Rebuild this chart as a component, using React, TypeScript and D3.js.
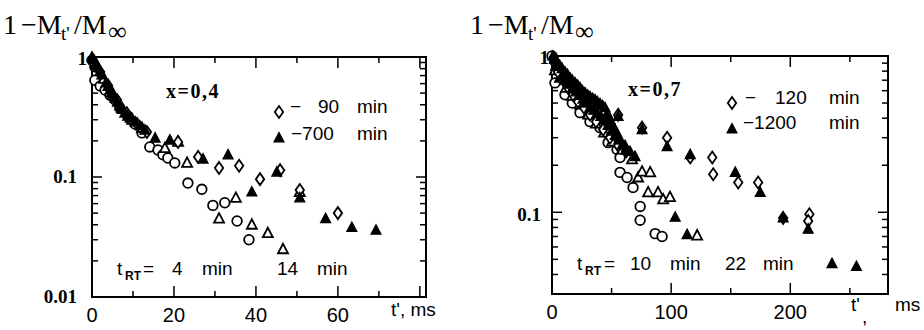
import * as d3 from 'd3';

type Pt = [number, number];

// ---- left panel, x = 0,4 (t' in ms, 1 - Mt'/Minf) ----
const L_CIRCLE: Pt[] = [
  [0, 0.94], [0.7, 0.83], [0.7, 0.64], [2, 0.574], [3.2, 0.53], [4.4, 0.48], [5.6, 0.44],
  [6.8, 0.376], [8.8, 0.32], [10.5, 0.277], [12.2, 0.233], [14.1, 0.178], [16.1, 0.168],
  [17.3, 0.153], [18.5, 0.144], [20.2, 0.131], [23.4, 0.089], [26.8, 0.079], [29.5, 0.058],
  [32.4, 0.061], [35.4, 0.043], [38.3, 0.03],
];
const L_TRI_OPEN: Pt[] = [
  [1, 0.86], [2.9, 0.656], [4.9, 0.51], [7.3, 0.376], [9.8, 0.3], [12.2, 0.256], [17.8, 0.174],
  [21, 0.196], [23.2, 0.131], [31, 0.045], [35.1, 0.067], [39, 0.04], [42.9, 0.034],
  [46.6, 0.025], [50.7, 0.075],
];
const L_DIAMOND: Pt[] = [
  [0.2, 0.91], [2, 0.75], [3.9, 0.58], [6.1, 0.438], [8.5, 0.34], [11, 0.277], [13.4, 0.237],
  [21, 0.196], [25.9, 0.147], [31, 0.119], [35.9, 0.124], [41, 0.096], [45.9, 0.114],
  [50.7, 0.078], [60, 0.05],
];
const L_TRI_FILLED: Pt[] = [
  [0, 1], [0.5, 0.944], [1, 0.88], [1.5, 0.826], [2, 0.76], [2.4, 0.708], [3.4, 0.607],
  [3.9, 0.57], [4.4, 0.531], [5, 0.49], [5.6, 0.455], [6.2, 0.42], [6.8, 0.391], [7.4, 0.365],
  [8, 0.341], [8.7, 0.322], [9.3, 0.31], [10.5, 0.288], [11.7, 0.266], [12.9, 0.246],
  [15.4, 0.211], [19, 0.203], [27.1, 0.141], [33.2, 0.153], [39, 0.075], [45.1, 0.11],
  [50.7, 0.067], [57, 0.045], [63.4, 0.038], [69.3, 0.036],
];

// ---- right panel, x = 0,7 ----
const R_CIRCLE: Pt[] = [
  [0, 1], [2.5, 0.673], [10.9, 0.565], [17, 0.5], [23.5, 0.434], [31.9, 0.38], [40.3, 0.348],
  [46.2, 0.323], [47.1, 0.279], [54.6, 0.252], [57.1, 0.224], [57.1, 0.18], [63, 0.167],
  [68, 0.144], [74, 0.109], [74, 0.089], [86.6, 0.073], [92.4, 0.07],
];
const R_TRI_OPEN: Pt[] = [
  [2.5, 0.81], [6.7, 0.724], [11.8, 0.626], [16.8, 0.556], [23.5, 0.488], [30.3, 0.421],
  [37, 0.369], [43.7, 0.323], [50.4, 0.283], [58.8, 0.252], [67.2, 0.218], [72.3, 0.167],
  [75.6, 0.182], [82.4, 0.18], [80.7, 0.134], [89, 0.134], [93.3, 0.121], [99, 0.125],
  [121.8, 0.071],
];
const R_DIAMOND: Pt[] = [
  [1.7, 0.916], [5, 0.791], [9.2, 0.703], [13.4, 0.626], [17.6, 0.565], [21.8, 0.51],
  [26.9, 0.467], [31.9, 0.421], [37, 0.38], [42.9, 0.338], [48.7, 0.3], [55.5, 0.267],
  [62.2, 0.245], [55.5, 0.42], [75.6, 0.348], [96.6, 0.3], [116, 0.224], [134.5, 0.224],
  [135.3, 0.175], [156.3, 0.155], [173, 0.155], [194, 0.092], [216, 0.097], [215, 0.088],
];
const R_TRI_FILLED: Pt[] = [
  [0.8, 1], [2, 0.95], [3.4, 0.943], [5, 0.9], [6.7, 0.864], [8.5, 0.83], [10.9, 0.791],
  [13, 0.76], [15.1, 0.724], [17, 0.7], [19.3, 0.673], [21.5, 0.65], [23.5, 0.626],
  [25.5, 0.6], [27.7, 0.581], [30, 0.56], [31.9, 0.548], [34, 0.535], [36.1, 0.525],
  [38, 0.51], [40.3, 0.495], [42.5, 0.48], [44.5, 0.467], [46.5, 0.43], [48.7, 0.391],
  [50.8, 0.36], [52.9, 0.338], [55, 0.315], [57.1, 0.292], [61.3, 0.267], [65.5, 0.245],
  [69.7, 0.227], [55.5, 0.41], [75.6, 0.338], [96.6, 0.263], [116, 0.234], [103.4, 0.093],
  [113.4, 0.072], [153.8, 0.18], [174.8, 0.134], [194, 0.092], [215, 0.078], [235, 0.047],
  [255.5, 0.045],
  // middle of the dense band
  [3, 0.86], [8, 0.74], [11, 0.7], [14, 0.66], [17, 0.62], [20, 0.59], [23, 0.56],
  [26, 0.53], [29, 0.5], [32, 0.47], [35, 0.45], [38, 0.43], [41, 0.41], [44, 0.39],
  [47, 0.36], [50, 0.33], [53, 0.31], [56, 0.29], [59, 0.27], [62, 0.25],
];

const L_X_TICKS = [0, 20, 40, 60];
const R_X_TICKS = [0, 100, 200];

const SERIF = '"Liberation Serif", "DejaVu Serif", serif';
const SANS = '"Liberation Sans", Arial, sans-serif';

type Kind = 'circle' | 'triOpen' | 'diamond' | 'triFilled';

function Marker({ kind, x, y }: { kind: Kind; x: number; y: number }) {
  if (kind === 'circle') {
    return <circle cx={x} cy={y} r={4.8} fill="white" stroke="black" strokeWidth={1.8} />;
  }
  if (kind === 'diamond') {
    return (
      <path d={`M${x},${y - 6} L${x + 4.2},${y} L${x},${y + 6} L${x - 4.2},${y} Z`}
        fill="white" stroke="black" strokeWidth={1.8} />
    );
  }
  const tri = `M${x},${y - 5.5} L${x + 5},${y + 4} L${x - 5},${y + 4} Z`;
  return kind === 'triFilled'
    ? <path d={tri} fill="black" stroke="black" strokeWidth={1.2} />
    : <path d={tri} fill="white" stroke="black" strokeWidth={1.8} />;
}

interface PanelProps {
  left: number; right: number; top: number; bottom: number;
  xMax: number; yMin: number;
  xMajor: number; xMinor: number;
  xTicks: number[];
  series: { kind: Kind; data: Pt[] }[];
}

function Panel({ left, right, top, bottom, xMax, yMin, xMajor, xMinor, xTicks, series }: PanelProps) {
  const x = d3.scaleLinear().domain([0, xMax]).range([left, right]);
  const y = d3.scaleLog().domain([yMin, 1]).range([bottom, top]);

  const yMinor: number[] = [];
  for (const dec of [0.01, 0.1]) {
    for (let k = 1; k < 10; k++) {
      const v = dec * k;
      if (v >= yMin - 1e-9 && v < 1 - 1e-9) yMinor.push(v);
    }
  }
  const xt = d3.range(0, xMax, xMinor).filter(v => v > 0);

  return (
    <g>
      <rect x={left} y={top} width={right - left} height={bottom - top}
        fill="none" stroke="black" strokeWidth={2} />
      {yMinor.map((v, i) => {
        const major = Math.abs(Math.log10(v) - Math.round(Math.log10(v))) < 1e-6;
        const len = major ? 10 : 6;
        return (
          <g key={`y${i}`}>
            <line x1={left} x2={left + len} y1={y(v)} y2={y(v)} stroke="black" strokeWidth={1.5} />
            <line x1={right} x2={right - len} y1={y(v)} y2={y(v)} stroke="black" strokeWidth={1.5} />
          </g>
        );
      })}
      {xt.map((v, i) => {
        const major = Math.abs(v % xMajor) < 1e-6;
        const len = major ? 11 : 6;
        return (
          <g key={`x${i}`}>
            <line x1={x(v)} x2={x(v)} y1={bottom} y2={bottom - len} stroke="black" strokeWidth={1.5} />
            <line x1={x(v)} x2={x(v)} y1={top} y2={top + len} stroke="black" strokeWidth={1.5} />
          </g>
        );
      })}
      {xTicks.map(v => (
        <text key={`xl${v}`} x={x(v)} y={bottom + 25} textAnchor="middle"
          fontFamily={SANS} fontSize={20}>{v}</text>
      ))}
      {series.map(s => s.data.map(([t, v], i) => (
        <Marker key={`${s.kind}${i}`} kind={s.kind} x={x(t)} y={y(v)} />
      )))}
    </g>
  );
}

function Title({ x }: { x: number }) {
  return (
    <g fontFamily={SERIF} fontSize={28}>
      <text x={x} y={34}>1</text>
      <text x={x + 18} y={34}>−M</text>
      <text x={x + 58} y={40} fontSize={19}>t'</text>
      <text x={x + 71} y={34}>/M</text>
      <text x={x + 105} y={40} fontSize={26}>∞</text>
    </g>
  );
}

export default function App() {
  return (
    <svg width={924} height={330} style={{ position: 'absolute', left: 0, top: 0, background: 'white' }}>
      <Title x={3} />
      <Title x={470} />

      <Panel left={92} right={426} top={57} bottom={297} xMax={81.5} yMin={0.01}
        xMajor={20} xMinor={10} xTicks={L_X_TICKS}
        series={[
          { kind: 'circle', data: L_CIRCLE },
          { kind: 'triOpen', data: L_TRI_OPEN },
          { kind: 'diamond', data: L_DIAMOND },
          { kind: 'triFilled', data: L_TRI_FILLED },
        ]} />
      <Panel left={552} right={888} top={56} bottom={294} xMax={282} yMin={0.03}
        xMajor={100} xMinor={50} xTicks={R_X_TICKS}
        series={[
          { kind: 'circle', data: R_CIRCLE },
          { kind: 'triOpen', data: R_TRI_OPEN },
          { kind: 'diamond', data: R_DIAMOND },
          { kind: 'triFilled', data: R_TRI_FILLED },
        ]} />

      {/* y tick labels */}
      <g fontFamily={SERIF} fontWeight="bold" fontSize={19} textAnchor="end">
        <text x={87} y={65}>1</text>
        <text x={77} y={183}>0.1</text>
        <text x={77} y={303}>0.01</text>
        <text x={549} y={64}>1</text>
        <text x={541} y={221}>0.1</text>
      </g>

      {/* left annotations */}
      <text x={166} y={98} fontFamily={SERIF} fontWeight="bold" fontSize={20} letterSpacing={1.5}>x=0,4</text>
      <g fontFamily={SANS} fontSize={19}>
        <Marker kind="diamond" x={279} y={112} />
        <text x={290} y={113}>−</text>
        <text x={318} y={113}>90</text>
        <text x={357} y={113}>min</text>
        <Marker kind="triFilled" x={279} y={138} />
        <text x={291} y={140}>−700</text>
        <text x={357} y={140}>min</text>

        <text x={117} y={275}>t</text>
        <text x={125} y={280} fontSize={12} fontWeight="bold">RT</text>
        <text x={143} y={275}>=</text>
        <text x={172} y={275}>4</text>
        <text x={202} y={275}>min</text>
        <text x={277} y={275}>14</text>
        <text x={317} y={275}>min</text>
        <text x={391} y={316}>t', ms</text>
      </g>

      {/* right annotations */}
      <text x={628} y={96} fontFamily={SERIF} fontWeight="bold" fontSize={20} letterSpacing={1.5}>x=0,7</text>
      <g fontFamily={SANS} fontSize={19}>
        <Marker kind="diamond" x={732} y={103} />
        <text x={745} y={104}>−</text>
        <text x={775} y={104}>120</text>
        <text x={829} y={104}>min</text>
        <Marker kind="triFilled" x={732} y={129} />
        <text x={743} y={129}>−1200</text>
        <text x={829} y={129}>min</text>

        <text x={577} y={270}>t</text>
        <text x={585} y={275} fontSize={12} fontWeight="bold">RT</text>
        <text x={604} y={270}>=</text>
        <text x={630} y={270}>10</text>
        <text x={670} y={270}>min</text>
        <text x={725} y={270}>22</text>
        <text x={763} y={270}>min</text>

        <text x={851} y={311}>t'</text>
        <text x={862} y={323}>,</text>
        <text x={895} y={311}>ms</text>
      </g>
    </svg>
  );
}
